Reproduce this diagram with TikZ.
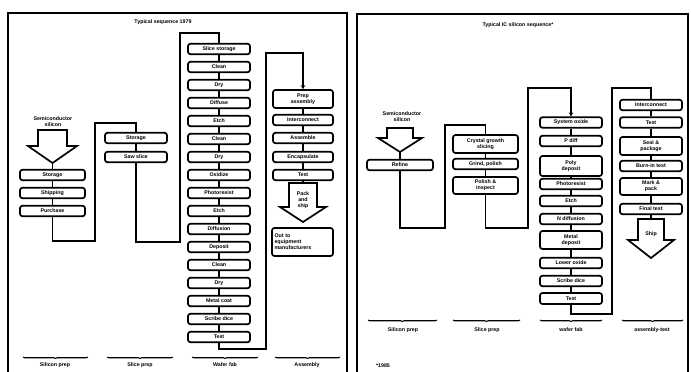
\documentclass[tikz,border=0pt]{standalone}
\usepackage{fontspec}
\setmainfont{Liberation Sans}
\usetikzlibrary{decorations.pathreplacing,arrows.meta}
\newcommand\fsz{\fontsize{5.3}{5.9}\selectfont\bfseries}
\begin{document}
\begin{tikzpicture}[x=1pt,y=-1pt,
  fbox/.style={draw, line width=1.7pt, rounded corners=2.5pt, minimum width=62pt, minimum height=10.5pt, inner sep=0pt, align=center, font=\fsz},
  link/.style={line width=1.9pt},
  entry/.style={line width=1.9pt, -{Stealth[length=4pt,width=4.5pt]}},
  frm/.style={line width=1.4pt},
  barrow/.style={draw, line width=1.7pt, line join=miter, fill=white},
  brc/.style={decorate, decoration={brace, amplitude=1.5pt}, line width=1.1pt},
  lbl/.style={font=\fsz, align=center, inner sep=0pt}]
\useasboundingbox (0,0) rectangle (691,372);
\fill[white] (0,0) rectangle (691,372);
% frames
\draw[frm] (8,372) -- (8,13) -- (347,13) -- (347,372);
\draw[frm] (357,372) -- (357,14) -- (688,14) -- (688,372);
\node[lbl] (tL) at (163,22) {Typical sequence 1979};
\node[lbl] (tR) at (518,25) {Typical IC silicon sequence*};
\node[lbl] (fn) at (383,366) {*1985};

% ===== LEFT PANEL =====
\node[lbl] (sL) at (53,122) {Semiconductor\\silicon};
\draw[barrow] (38,130) -- (67,130) -- (67,146) -- (77,146) -- (52.5,163) -- (28,146) -- (38,146) -- cycle;
\coordinate (tipL) at (52.5,163);
\node[fbox, minimum width=65pt] (a1) at (52.5,175) {Storage};
\node[fbox, minimum width=65pt] (a2) at (52.5,193) {Shipping};
\node[fbox, minimum width=65pt] (a3) at (52.5,211) {Purchase};
\draw[link] (tipL) -- (a1.north);
\draw[link] (a1) -- (a2); \draw[link] (a2) -- (a3);

\node[fbox] (b1) at (136,138) {Storage};
\node[fbox] (b2) at (136,157) {Saw slice};
\draw[link] (b1) -- (b2);
\coordinate (p1) at (95,241); \coordinate (p2) at (95,123);
\draw[link] (a3.south) |- (p1) -- (p2) -| (b1.north);

\foreach \i/\t in {1/Slice storage,2/Clean,3/Dry,4/Diffuse,5/Etch,6/Clean,7/Dry,8/Oxidize,9/Photoresist,10/Etch,11/Diffusion,12/Deposit,13/Clean,14/Dry,15/Metal coat,16/Scribe dice,17/Test}
  \node[fbox] (c\i) at (219,{49+18*(\i-1)}) {\t};
\foreach \i [evaluate=\i as \j using int(\i+1)] in {1,...,16}
  \draw[link] (c\i) -- (c\j);
\coordinate (q1) at (180,242); \coordinate (q2) at (180,33);
\draw[link] (b2.south) |- (q1) -- (q2) -| (c1.north);

\node[fbox, minimum width=60pt, minimum height=18pt] (d1) at (303,99) {Prep\\assembly};
\node[fbox, minimum width=60pt] (d2) at (303,120) {Interconnect};
\node[fbox, minimum width=60pt] (d3) at (303,138) {Assemble};
\node[fbox, minimum width=60pt] (d4) at (303,157) {Encapsulate};
\node[fbox, minimum width=60pt] (d5) at (303,175) {Test};
\draw[link] (d1) -- (d2); \draw[link] (d2) -- (d3); \draw[link] (d3) -- (d4); \draw[link] (d4) -- (d5);
\coordinate (r1) at (266,349); \coordinate (r2) at (266,53);
\draw[entry] (c17.south) |- (r1) -- (r2) -| (d1.north);
\draw[barrow] (289,183) -- (317,183) -- (317,207) -- (326,207) -- (303,222) -- (280,207) -- (289,207) -- cycle;
\coordinate (topA) at (303,183);
\draw[link] (d5.south) -- (topA);
\node[lbl] (ship1) at (303,200) {Pack\\and\\ship};
\node[fbox, minimum width=61pt, minimum height=28pt, align=left, text width=56pt] (d6) at (302.5,242) {Out to\\equipment\\manufacturers};

% bottom labels left
\draw[brc] (88,357) -- (23,357);
\draw[brc] (173,357) -- (107,357);
\draw[brc] (258,357) -- (192,357);
\draw[brc] (340,357) -- (275,357);
\node[lbl] (bl1) at (55,365) {Silicon prep};
\node[lbl] (bl2) at (140,365) {Slice prep};
\node[lbl] (bl3) at (225,365) {Wafer fab};
\node[lbl] (bl4) at (307,365) {Assembly};

% ===== RIGHT PANEL =====
\node[lbl] (sR) at (402,117) {Semiconductor\\silicon};
\draw[barrow] (387,128) -- (413,128) -- (413,138) -- (422,138) -- (400,152) -- (378,138) -- (387,138) -- cycle;
\coordinate (tipR) at (400,152);
\node[fbox, minimum width=66pt] (e1) at (400,165) {Refine};
\draw[link] (tipR) -- (e1.north);

\node[fbox, minimum width=65pt, minimum height=18pt] (f1) at (485.5,144) {Crystal growth\\slicing};
\node[fbox, minimum width=65pt] (f2) at (485.5,164) {Grind, polish};
\node[fbox, minimum width=65pt, minimum height=17pt] (f3) at (485.5,185.5) {Polish \&\\inspect};
\draw[link] (f1) -- (f2); \draw[link] (f2) -- (f3);
\coordinate (s1) at (445,228); \coordinate (s2) at (445,125);
\draw[link] (e1.south) |- (s1) -- (s2) -| (f1.north);

\node[fbox] (g1) at (571,122.5) {System oxide};
\node[fbox] (g2) at (571,141) {P diff};
\node[fbox, minimum height=20pt] (g3) at (571,166) {Poly\\deposit};
\node[fbox] (g4) at (571,184) {Photoresist};
\node[fbox] (g5) at (571,201) {Etch};
\node[fbox] (g6) at (571,219) {N diffusion};
\node[fbox, minimum height=18pt] (g7) at (571,240) {Metal\\deposit};
\node[fbox] (g8) at (571,263) {Lower oxide};
\node[fbox] (g9) at (571,281) {Scribe dice};
\node[fbox, minimum height=11pt] (g10) at (571,298.5) {Test};
\foreach \i [evaluate=\i as \j using int(\i+1)] in {1,...,9}
  \draw[link] (g\i) -- (g\j);
\coordinate (t1) at (528,228); \coordinate (t2) at (528,88);
\draw[entry] (f3.south) |- (t1) -- (t2) -| (g1.north);

\node[fbox] (h1) at (651,105) {Interconnect};
\node[fbox] (h2) at (651,122.5) {Test};
\node[fbox, minimum height=18pt] (h3) at (651,146) {Seal \&\\package};
\node[fbox] (h4) at (651,166) {Burn-in test};
\node[fbox, minimum height=17pt] (h5) at (651,186.5) {Mark \&\\pack};
\node[fbox] (h6) at (651,209) {Final test};
\foreach \i [evaluate=\i as \j using int(\i+1)] in {1,...,5}
  \draw[link] (h\i) -- (h\j);
\coordinate (u1) at (612,314); \coordinate (u2) at (612,88);
\draw[link] (g10.south) |- (u1) -- (u2) -| (h1.north);
\draw[barrow] (638,219) -- (664,219) -- (664,240) -- (674,240) -- (651,258) -- (628,240) -- (638,240) -- cycle;
\coordinate (topB) at (651,219);
\draw[link] (h6.south) -- (topB);
\node[lbl] (ship2) at (651,234) {Ship};

% bottom labels right
\draw[brc] (437,320) -- (368,320);
\draw[brc] (520,320) -- (453,320);
\draw[brc] (602,320) -- (540,320);
\draw[brc] (683,320) -- (622,320);
\node[lbl] (br1) at (403,330) {Silicon prep};
\node[lbl] (br2) at (487,330) {Slice prep};
\node[lbl] (br3) at (571,330) {wafer fab};
\node[lbl] (br4) at (652,330) {assembly-test};
\end{tikzpicture}
\end{document}
